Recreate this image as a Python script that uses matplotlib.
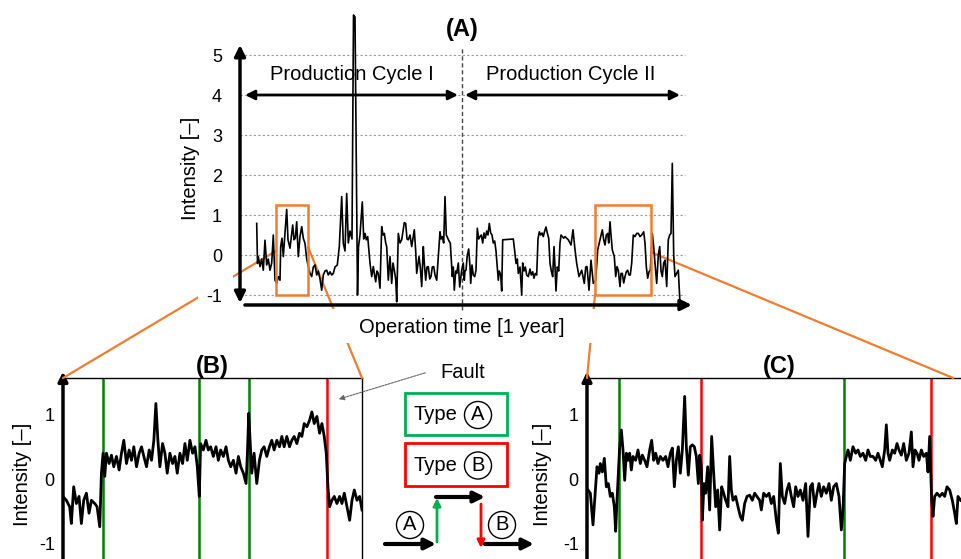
import matplotlib
matplotlib.use("Agg")
import matplotlib.pyplot as plt
from matplotlib.patches import Rectangle, FancyArrowPatch, ConnectionPatch

plt.rcParams['font.family'] = ['Liberation Sans', 'DejaVu Sans']
plt.rcParams['axes.unicode_minus'] = False

# ---- data -------------------------------------------------------------
# (A) one year of operation, time in samples (no x ticks in the figure)
main_time = [
    1.7, 2.5, 3.3, 5.0, 6.7, 8.3, 10.0, 11.7, 13.3, 15.0,
    16.7, 18.3, 20.0, 21.7, 23.3, 25.0, 25.7, 27.0, 28.3, 29.7,
    31.7, 33.0, 35.0, 36.3, 37.7, 39.0, 40.3, 41.7, 43.3, 45.0,
    46.7, 48.3, 50.0, 51.7, 53.3, 55.0, 56.7, 58.3, 60.0, 61.7,
    63.3, 65.0, 66.7, 68.3, 70.0, 71.7, 73.3, 75.0, 76.7, 78.3,
    80.0, 82.3, 84.3, 86.7, 88.3, 90.0, 91.7, 93.3, 95.0, 97.0,
    98.5, 100.0, 102.5, 103.5, 105.0, 107.3, 108.7, 110.0, 111.3, 112.7,
    115.0, 116.7, 118.3, 120.7, 122.0, 123.3, 125.0, 126.7, 128.0, 129.3,
    130.7, 131.7, 133.3, 135.0, 136.7, 138.0, 139.3, 140.7, 141.7, 143.3,
    145.0, 146.7, 148.0, 149.3, 150.7, 152.0, 153.3, 155.0, 156.7, 159.3,
    160.7, 161.7, 164.0, 165.3, 166.7, 168.3, 169.3, 170.7, 172.0, 173.3,
    174.7, 176.0, 177.3, 178.7, 180.0, 181.7, 183.3, 185.0, 186.0, 187.3,
    188.7, 190.0, 191.3, 192.7, 194.0, 195.3, 197.3, 198.3, 199.3, 200.7,
    201.7, 203.3, 204.7, 206.7, 208.3, 209.3, 210.0, 211.0, 212.3, 213.7,
    215.0, 215.7, 217.0, 218.3, 219.7, 221.0, 222.3, 223.7, 225.0, 226.3,
    227.7, 229.0, 230.3, 231.7, 233.0, 234.3, 235.7, 237.0, 238.3, 239.7,
    241.0, 242.3, 243.3, 244.3, 245.7, 246.7, 247.7, 258.3, 259.7, 261.0,
    262.3, 263.3, 265.0, 266.7, 267.7, 269.0, 270.3, 271.7, 273.3, 275.0,
    276.3, 277.7, 279.0, 280.3, 281.7, 283.0, 284.3, 285.7, 287.0, 288.3,
    289.7, 291.0, 292.3, 293.7, 295.0, 296.3, 297.7, 299.0, 300.0, 301.0,
    302.3, 303.7, 305.0, 306.0, 307.3, 308.7, 310.0, 313.3, 316.0, 318.0,
    320.0, 321.7, 324.0, 326.7, 329.3, 330.7, 332.0, 334.0, 336.0, 338.3,
    340.7, 342.7, 345.0, 347.3, 348.7, 350.0, 351.3, 352.7, 353.7, 355.0,
    356.0, 357.3, 359.3, 360.7, 362.0, 363.3, 365.0, 366.0, 367.3, 368.7,
    370.0, 371.3, 372.7, 374.0, 375.3, 376.7, 378.3, 380.0, 381.7, 383.3,
    385.0, 386.7, 388.7, 390.0, 391.3, 392.7, 394.0, 395.3, 397.3, 398.7,
    400.0, 401.7, 403.3, 404.7, 406.0, 407.3, 408.7, 410.0, 411.7, 413.3,
    414.7, 416.0, 417.3, 418.7, 420.0, 421.7, 423.3, 425.0,
]
main_intensity = [
    0.79, -0.21, -0.04, -0.29, -0.10, -0.38, 0.37, -0.25, -0.10, -0.38,
    -0.20, 0.50, -0.63, -0.71, -0.54, -0.63, 0.21, 0.42, -0.04, 0.46,
    1.14, 0.38, 0.17, 0.46, 0.75, 0.38, 0.42, 0.83, -0.04, 0.46,
    0.71, 0.42, 0.29, -0.10, -0.29, -0.46, -0.54, -0.30, -0.25, -0.50,
    -0.40, -0.60, -0.88, -0.50, -0.40, -0.38, -0.50, -0.42, -0.50, -0.46,
    -0.30, -0.25, 0.21, 1.46, 0.29, 0.10, 1.54, 0.30, 0.60, 0.40,
    6.00, 5.95, -1.00, 0.20, 0.50, 1.33, 0.40, 0.54, 0.38, 0.46,
    -0.20, -0.54, -0.29, -0.67, -0.40, -0.46, -0.83, 0.71, 0.50, 0.54,
    0.30, 0.21, -0.63, -0.04, -0.71, -0.20, -0.38, -0.60, -1.17, 0.54,
    0.30, 0.38, 0.60, 0.81, 0.79, 0.40, 0.38, 0.50, 0.21, 0.63,
    0.10, -0.46, -0.04, -0.30, -0.79, 0.21, -0.20, -0.63, -0.30, -0.29,
    -0.60, -0.54, -0.30, -0.29, -0.50, -0.63, -0.04, 0.58, 0.40, 0.46,
    0.30, 1.46, 0.50, 0.42, 0.35, 0.30, -0.54, -0.30, -0.88, -0.40,
    -0.46, -0.20, -0.80, -0.38, -0.20, -0.63, -0.40, -0.38, 0.00, 0.15,
    -0.30, -0.71, -0.25, -0.50, -0.54, -0.38, 0.67, 0.40, 0.46, 0.50,
    0.30, 0.55, 0.42, 0.60, 0.50, 0.79, 0.55, 0.50, 0.30, 0.35,
    0.10, -0.30, -0.63, -0.40, -0.50, -0.90, 0.38, 0.40, 0.10, -0.21,
    -0.10, -0.46, -0.30, -1.00, -0.20, -0.40, -0.30, -0.50, -0.54, -0.35,
    -0.50, -0.42, -0.58, -0.46, -0.50, 0.40, 0.58, 0.50, 0.55, 0.46,
    0.60, 0.70, 0.55, 0.42, -0.21, -0.40, -0.54, 0.21, -0.30, -0.90,
    -0.30, -0.40, 0.30, 0.50, 0.46, 0.42, 0.46, 0.38, 0.25, 0.63,
    0.13, -0.21, -0.54, -0.38, -0.71, -0.30, -0.29, -0.88, -0.13, -0.71,
    -0.63, 0.13, 0.38, 0.63, 0.38, 0.25, 0.50, 0.54, 0.30, 0.83,
    0.50, 0.13, -0.04, -0.54, -0.29, -0.38, -0.79, -0.46, -0.46, -0.70,
    -0.54, -0.42, -0.38, -0.50, -0.50, -0.20, 0.50, 0.46, 0.54, 0.54,
    0.46, 0.50, 0.58, 0.30, -0.29, -0.58, -0.42, -0.38, 0.54, 0.20,
    -0.21, -0.71, 0.00, 0.21, -0.40, -0.54, -0.20, -0.13, -0.79, 0.38,
    0.50, 0.54, 2.29, 0.00, -0.54, -0.46, -0.38, -1.21,
]
cycle_split = 207          # end of production cycle I
zoom_b = (21, 53)          # window shown in (B)
zoom_c = (340, 396)        # window shown in (C)

# (B) zoomed window, time in samples
b_time = [
    190, 200, 210, 215, 222, 230, 238, 245, 252, 260,
    268, 275, 285, 292, 300, 305, 310, 315, 320, 328,
    335, 342, 350, 358, 365, 372, 380, 388, 395, 402,
    410, 418, 425, 432, 440, 448, 455, 462, 468, 474,
    480, 488, 495, 502, 510, 518, 525, 532, 540, 548,
    555, 562, 570, 578, 585, 592, 598, 602, 610, 618,
    625, 632, 640, 648, 655, 662, 670, 678, 685, 692,
    700, 708, 715, 722, 730, 738, 742, 746, 750, 755,
    762, 770, 778, 785, 792, 800, 808, 815, 822, 830,
    838, 845, 852, 860, 868, 875, 882, 890, 898, 905,
    912, 920, 928, 935, 942, 950, 958, 965, 972, 978,
    983, 988, 995, 1002, 1010, 1018, 1025, 1032, 1040, 1048,
    1055, 1062, 1070, 1078, 1085,
]
b_intensity = [
    -0.27, -0.33, -0.43, -0.69, -0.12, -0.38, -0.27, -0.69, -0.33, -0.22,
    -0.53, -0.33, -0.38, -0.43, -0.74, 0.09, 0.40, 0.04, 0.40, 0.24,
    0.37, 0.19, 0.35, 0.14, 0.40, 0.60, 0.24, 0.45, 0.29, 0.50,
    0.19, 0.40, 0.50, 0.35, 0.19, 0.45, 0.29, 0.60, 1.17, 0.60,
    0.19, 0.55, 0.40, 0.09, 0.40, 0.24, 0.35, 0.09, 0.40, 0.24,
    0.55, 0.29, 0.60, 0.40, 0.50, 0.19, -0.27, 0.55, 0.45, 0.60,
    0.45, 0.50, 0.35, 0.50, 0.29, 0.45, 0.35, 0.50, 0.29, 0.19,
    0.29, 0.09, 0.35, 0.19, 0.09, -0.07, 0.40, 1.02, 0.60, 0.09,
    0.40, -0.07, 0.29, 0.45, 0.50, 0.35, 0.50, 0.60, 0.45, 0.60,
    0.50, 0.66, 0.50, 0.66, 0.50, 0.60, 0.66, 0.55, 0.71, 0.66,
    0.86, 0.81, 0.91, 1.04, 0.86, 0.97, 0.71, 0.86, 0.66, 0.40,
    -0.12, -0.43, -0.33, -0.27, -0.38, -0.27, -0.38, -0.22, -0.43, -0.64,
    -0.33, -0.17, -0.33, -0.27, -0.48,
]
b_type_a = [310, 598, 746]
b_type_b = [980]

# (C) zoomed window, time in samples
c_time = [
    85, 92, 100, 106, 112, 118, 122, 128, 134, 140,
    146, 152, 158, 164, 168, 172, 176, 180, 185, 190,
    195, 200, 205, 210, 215, 220, 228, 235, 242, 248,
    255, 262, 270, 276, 282, 288, 295, 302, 310, 318,
    325, 332, 338, 344, 350, 356, 362, 368, 375, 380,
    386, 392, 398, 404, 410, 416, 420, 425, 428, 433,
    438, 444, 450, 456, 462, 468, 474, 480, 486, 492,
    498, 505, 510, 515, 520, 528, 535, 542, 548, 555,
    562, 570, 578, 585, 592, 600, 605, 612, 620, 628,
    635, 642, 650, 656, 662, 668, 675, 682, 688, 695,
    702, 708, 715, 722, 730, 738, 745, 752, 758, 765,
    772, 778, 785, 792, 800, 808, 815, 822, 830, 838,
    845, 850, 855, 860, 865, 872, 880, 888, 895, 902,
    910, 918, 925, 932, 940, 948, 955, 962, 968, 975,
    980, 985, 990, 998, 1005, 1012, 1018, 1025, 1032, 1040,
    1048, 1055, 1060, 1066, 1072, 1078, 1085, 1092, 1100, 1105,
    1110, 1113, 1116, 1120, 1125, 1132, 1140, 1148, 1155, 1162,
    1170, 1178, 1185, 1190, 1195, 1203,
]
c_intensity = [
    -0.17, -0.22, -0.71, -0.27, 0.19, 0.09, 0.24, 0.11, 0.32, -0.12,
    -0.07, -0.27, -0.22, -0.43, -0.81, -0.33, 0.09, 0.50, 0.76, 0.45,
    -0.02, 0.40, 0.29, 0.40, 0.14, 0.35, 0.29, 0.45, 0.24, 0.37,
    0.29, 0.19, 0.45, 0.60, 0.29, 0.40, 0.24, 0.35, 0.29, 0.35,
    0.19, 0.40, 0.48, -0.12, 0.29, 0.50, 0.09, 0.45, 1.28, 0.50,
    0.06, 0.50, 0.53, 0.50, 0.35, -0.07, 0.37, 0.19, -0.64, -0.07,
    -0.22, 0.19, -0.48, 0.66, 0.09, -0.43, -0.17, -0.79, -0.12, -0.22,
    -0.33, -0.43, 0.35, -0.17, -0.33, -0.27, -0.43, -0.58, -0.64, -0.38,
    -0.27, -0.25, -0.33, -0.22, -0.27, -0.33, -0.48, -0.22, -0.27, -0.22,
    -0.38, -0.27, -0.64, -0.84, 0.24, -0.27, -0.38, -0.17, -0.07, -0.27,
    -0.43, -0.12, -0.27, -0.17, -0.33, -0.07, -0.89, -0.12, -0.07, -0.43,
    -0.22, -0.07, -0.27, -0.12, -0.22, -0.07, -0.33, -0.12, -0.07, -0.27,
    -0.79, -0.48, 0.24, 0.35, 0.45, 0.29, 0.50, 0.40, 0.45, 0.35,
    0.40, 0.29, 0.45, 0.35, 0.35, 0.29, 0.40, 0.29, 0.19, 0.45,
    0.84, 0.40, 0.29, 0.45, 0.40, 0.55, 0.45, 0.37, 0.55, 0.29,
    0.40, 0.73, 0.19, 0.45, 0.40, 0.29, 0.45, 0.35, 0.40, 0.11,
    0.66, 0.19, -0.33, -0.58, -0.27, -0.22, -0.27, -0.22, -0.27, -0.12,
    -0.17, -0.33, -0.53, -0.69, -0.27, -0.33,
]
c_type_a = [178, 852]
c_type_b = [425, 1113]

main_ticks = [-1, 0, 1, 2, 3, 4, 5]
zoom_ticks = [-1, 0, 1]

ORANGE = '#ED7D31'
GREEN_LINE = '#008000'
GREEN_BOX = '#00B050'
RED = '#FF0000'

W, H = 961, 559


def fx(px):
    return px / W


def fy(py):
    return 1 - py / H


fig = plt.figure(figsize=(W / 100, H / 100), dpi=100)

# ---- panel A ----------------------------------------------------------
axA = fig.add_axes([fx(240), fy(305), 450 / W, 260 / H])
axA.set_zorder(5)
axA.set_facecolor('none')
axA.set_xlim(-15, 435)
axA.set_ylim(-1.25, 5.25)
for s in axA.spines.values():
    s.set_visible(False)

axA.hlines(main_ticks, -15, 430, colors='#9a9a9a', linestyles=(0, (2, 2)), lw=0.8, zorder=1)
axA.axvline(cycle_split, ymin=-0.02, ymax=0.99, color='#444444', ls=(0, (3, 2)), lw=1.0,
            clip_on=False, zorder=1)
axA.plot(main_time, main_intensity, color='black', lw=1.2, clip_on=False, zorder=3)

for lo, hi in (zoom_b, zoom_c):
    axA.add_patch(Rectangle((lo, -1.0), hi - lo, 2.25, fill=False, ec=ORANGE, lw=1.8, zorder=4))

axA.annotate('', xy=(0, 1.0), xytext=(0, 0.008), xycoords='axes fraction',
             arrowprops=dict(arrowstyle='<|-|>', lw=2.5, color='black', mutation_scale=16,
                             shrinkA=0, shrinkB=0))
axA.annotate('', xy=(1.004, 0.0), xytext=(0.011, 0.0), xycoords='axes fraction',
             arrowprops=dict(arrowstyle='-|>', lw=2.5, color='black', mutation_scale=16,
                             shrinkA=0, shrinkB=0))
for a, b in ((-10, cycle_split - 4), (cycle_split + 3, 425)):
    axA.annotate('', xy=(b, 4), xytext=(a, 4),
                 arrowprops=dict(arrowstyle='<|-|>', lw=2, color='black', mutation_scale=14,
                                 shrinkA=0, shrinkB=0))
axA.text(97, 4.5, 'Production Cycle I', ha='center', va='center', fontsize=14.5)
axA.text(316, 4.5, 'Production Cycle II', ha='center', va='center', fontsize=14.5)

axA.set_xticks([])
axA.set_yticks(main_ticks)
axA.set_yticklabels([str(v) for v in main_ticks], fontsize=13)
axA.tick_params(axis='y', length=0, pad=13)
axA.text(0.493, -0.088, 'Operation time [1 year]', transform=axA.transAxes,
         ha='center', va='center', fontsize=14.5)
axA.text(-0.111, 0.527, 'Intensity [–]', transform=axA.transAxes, rotation=90,
         ha='center', va='center', fontsize=14.5)
axA.text(0.493, 1.058, '(A)', transform=axA.transAxes, ha='center', va='center',
         fontsize=17, fontweight='bold')


# ---- panels B and C ---------------------------------------------------
def zoom_panel(left_px, right_px, xlim, times, values, type_a, type_b, title,
               title_x, label_x, right_spine=True):
    ax = fig.add_axes([fx(left_px), 0, (right_px - left_px) / W, 181 / H])
    ax.set_xlim(*xlim)
    ax.set_ylim(-1.24, 1.566)
    ax.spines['left'].set_visible(False)
    ax.spines['bottom'].set_visible(False)
    ax.spines['right'].set_visible(right_spine)
    ax.spines['top'].set_linewidth(1.0)
    ax.spines['right'].set_linewidth(1.0)
    for x in type_a:
        ax.axvline(x, color=GREEN_LINE, lw=1.8, zorder=1)
    for x in type_b:
        ax.axvline(x, color=RED, lw=1.8, zorder=1)
    ax.plot(times, values, color='black', lw=2.0, zorder=2)
    ax.annotate('', xy=(0, 1.035), xytext=(0, -0.05), xycoords='axes fraction',
                arrowprops=dict(arrowstyle='-|>', lw=2.5, color='black', mutation_scale=14,
                                shrinkA=0, shrinkB=0))
    ax.set_xticks([])
    ax.set_yticks(zoom_ticks)
    ax.set_yticklabels([str(v) for v in zoom_ticks], fontsize=13)
    ax.tick_params(axis='y', length=0, pad=6)
    ax.text(label_x, 0.47, 'Intensity [–]', transform=ax.transAxes, rotation=90,
            ha='center', va='center', fontsize=14.5)
    ax.text(title_x, 1.066, title, transform=ax.transAxes, ha='center', va='center',
            fontsize=17, fontweight='bold')
    return ax


axB = zoom_panel(63, 362, (190, 1085), b_time, b_intensity, b_type_a, b_type_b,
                 '(B)', 0.498, -0.137)
axC = zoom_panel(587, 961, (82, 1204), c_time, c_intensity, c_type_a, c_type_b,
                 '(C)', 0.513, -0.118, right_spine=False)

# ---- orange connectors ------------------------------------------------
connectors = [
    ((zoom_b[0], 0.10), axB, (0, 1)),
    ((zoom_b[1], 0.20), axB, (1, 1)),
    ((zoom_c[0], -1.0), axC, (0, 1)),
    ((zoom_c[1], 0.07), axC, (0.979, 1)),
]
for xy_a, ax_b, xy_b in connectors:
    con = ConnectionPatch(xyA=xy_a, coordsA=axA.transData, xyB=xy_b, coordsB=ax_b.transAxes,
                          color=ORANGE, lw=1.6, zorder=2)
    fig.add_artist(con)

# white areas of panel A that hide the connectors
fig.add_artist(Rectangle((fx(198), fy(300)), 35 / W, 260 / H, transform=fig.transFigure,
                         fc='white', ec='none', zorder=3))
fig.add_artist(Rectangle((fx(200), fy(343)), 500 / W, 34 / H, transform=fig.transFigure,
                         fc='white', ec='none', zorder=3))

# ---- legend / schematic in the middle ---------------------------------
fig.text(fx(463), fy(373), 'Fault', ha='center', va='center', fontsize=14.5)
fig.add_artist(FancyArrowPatch((fx(428), fy(372)), (fx(336), fy(400)), transform=fig.transFigure,
                               arrowstyle='-|>', mutation_scale=8, lw=0.8, color='#666666',
                               ls=(0, (2, 1))))

circle = dict(boxstyle='circle,pad=0.2', fc='white', ec='black', lw=1.0)
for top, bottom, color, label in ((393, 435, GREEN_BOX, 'A'), (443, 486, RED, 'B')):
    fig.add_artist(Rectangle((fx(405), fy(bottom)), 102 / W, (bottom - top) / H,
                             transform=fig.transFigure, fill=False, ec=color, lw=2))
    mid = (top + bottom) / 2
    fig.text(fx(435), fy(mid + 1), 'Type', ha='center', va='center', fontsize=14.5)
    fig.text(fx(478), fy(mid + 1), label, ha='center', va='center', fontsize=14.5, bbox=circle)


def fig_arrow(p0, p1, color, lw, ms):
    fig.add_artist(FancyArrowPatch((fx(p0[0]), fy(p0[1])), (fx(p1[0]), fy(p1[1])),
                                   transform=fig.transFigure, arrowstyle='-|>',
                                   mutation_scale=ms, lw=lw, color=color,
                                   shrinkA=0, shrinkB=0))


fig_arrow((385, 544), (436, 544), 'black', 3, 16)
fig_arrow((437, 542), (437, 498), GREEN_BOX, 2, 11)
fig_arrow((436, 497), (485, 497), 'black', 3, 16)
fig_arrow((481, 504), (481, 548), RED, 2, 11)
fig_arrow((485, 544), (534, 544), 'black', 3, 16)
fig.text(fx(410), fy(525), 'A', ha='center', va='center', fontsize=14.5, bbox=circle)
fig.text(fx(502), fy(525), 'B', ha='center', va='center', fontsize=14.5, bbox=circle)

fig.savefig('out.png', dpi=100)
